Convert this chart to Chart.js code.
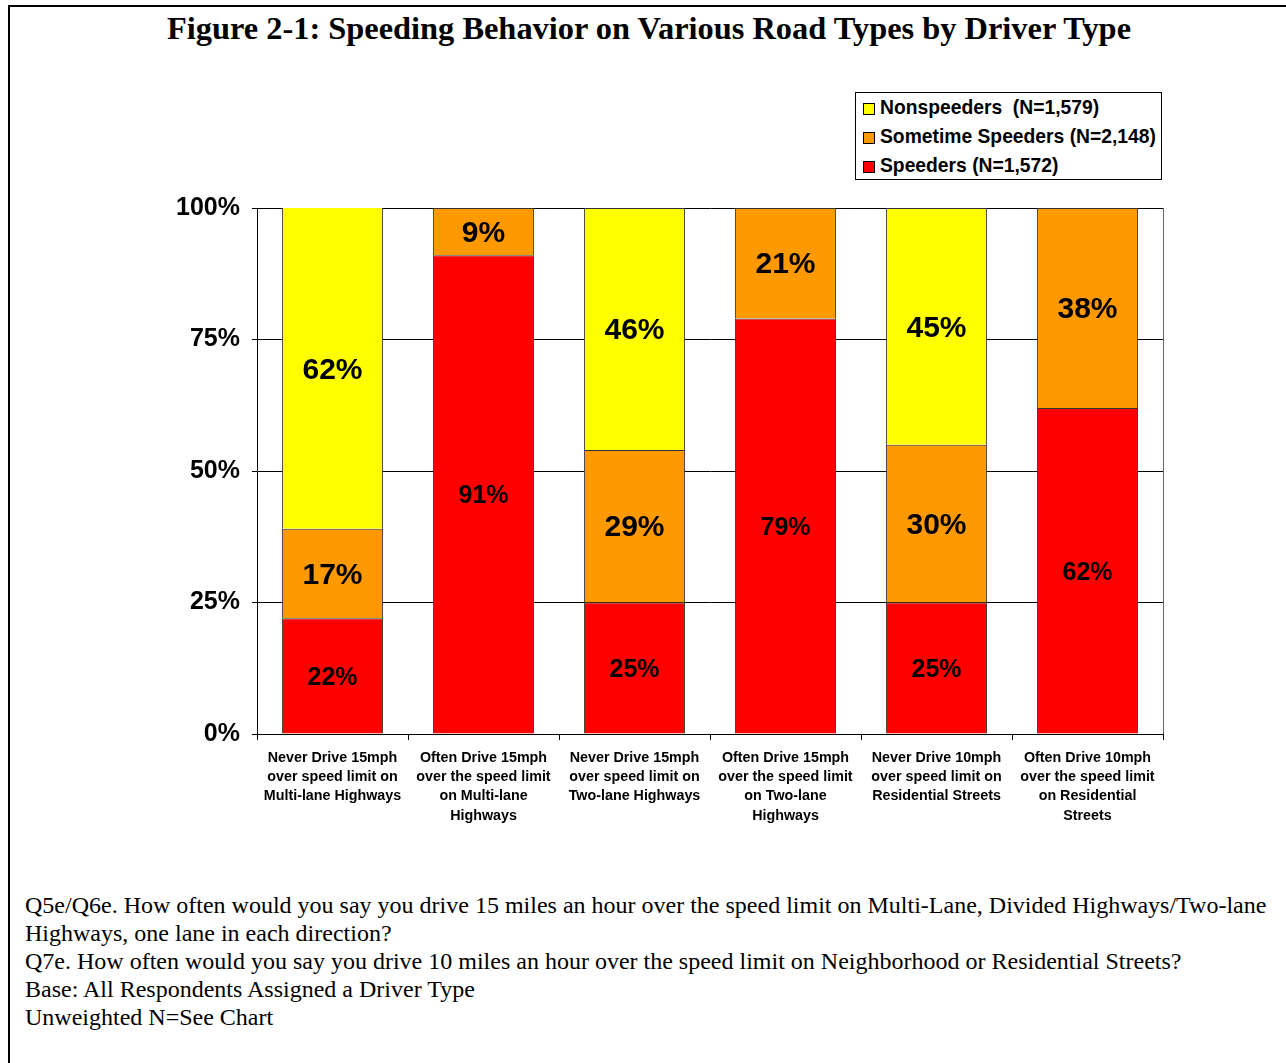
<!DOCTYPE html>
<html>
<head>
<meta charset="utf-8">
<script src="https://cdn.jsdelivr.net/npm/chart.js@4"></script>
<style>
  body { margin: 0; background: #fff; width: 1286px; height: 1063px; position: relative; overflow: hidden; }
  #frame { position: absolute; left: 8px; top: 5px; width: 1300px; height: 1100px; border-top: 2px solid #000; border-left: 2px solid #000; }
  #title { position: absolute; left: 0; width: 1298px; top: 10px; text-align: center; font: bold 32.4px "Liberation Serif", "Times New Roman", serif; color: #000; white-space: nowrap; }
  #wrap { position: absolute; left: 0; top: 0; width: 1286px; height: 840px; }
  #legend { position: absolute; left: 855px; top: 92px; width: 305px; height: 86px; border: 1px solid #000; background: #fff; }
  .item { position: absolute; left: 7px; font: bold 19.3px "Liberation Sans", Arial, sans-serif; white-space: pre; color: #000; }
  .sw { position: absolute; left: 0; top: 6px; width: 10px; height: 10px; border: 1px solid #000; }
  .item span.t { position: absolute; left: 17px; top: 0; }
  #notes { position: absolute; left: 25px; top: 891px; font: 24px "Liberation Serif", "Times New Roman", serif; line-height: 28px; color: #000; white-space: nowrap; }
</style>
</head>
<body>
<div id="frame"></div>
<div id="title">Figure 2-1: Speeding Behavior on Various Road Types by Driver Type</div>
<div id="wrap"><canvas id="myChart"></canvas></div>
<div id="legend"></div>
<div id="notes">Q5e/Q6e. How often would you say you drive 15 miles an hour over the speed limit on Multi-Lane, Divided Highways/Two-lane<br>Highways, one lane in each direction?<br>Q7e. How often would you say you drive 10 miles an hour over the speed limit on Neighborhood or Residential Streets?<br>Base: All Respondents Assigned a Driver Type<br>Unweighted N=See Chart</div>
<script>
var categories = [
    ['Never Drive 15mph', 'over speed limit on', 'Multi-lane Highways'],
    ['Often Drive 15mph', 'over the speed limit', 'on Multi-lane', 'Highways'],
    ['Never Drive 15mph', 'over speed limit on', 'Two-lane Highways'],
    ['Often Drive 15mph', 'over the speed limit', 'on Two-lane', 'Highways'],
    ['Never Drive 10mph', 'over speed limit on', 'Residential Streets'],
    ['Often Drive 10mph', 'over the speed limit', 'on Residential', 'Streets']
];
var speeders = [22, 91, 25, 79, 25, 62];
var sometimeSpeeders = [17, 9, 29, 21, 30, 38];
var nonspeeders = [62, null, 46, null, 45, null];
var yTicks = [0, 25, 50, 75, 100];

var legendLabels = ['Nonspeeders  (N=1,579)', 'Sometime Speeders (N=2,148)', 'Speeders (N=1,572)'];
var legendColors = ['#FFFF00', '#FF9900', '#FF0000'];

var legend = document.getElementById('legend');
for (var i = 0; i < legendLabels.length; i++) {
    var it = document.createElement('div');
    it.className = 'item';
    it.style.top = (4 + i * 29) + 'px';
    it.innerHTML = '<div class="sw" style="background:' + legendColors[i] + '"></div><span class="t"></span>';
    it.querySelector('.t').textContent = legendLabels[i];
    legend.appendChild(it);
}

// labels centred in each segment
var segLabels = {
    id: 'segLabels',
    afterDatasetsDraw: function(chart) {
        var ctx = chart.ctx;
        var area = chart.chartArea;
        ctx.save();
        ctx.textAlign = 'center';
        ctx.textBaseline = 'middle';
        ctx.fillStyle = '#000';
        chart.data.datasets.forEach(function(ds, di) {
            var meta = chart.getDatasetMeta(di);
            meta.data.forEach(function(bar, i) {
                var v = ds.data[i];
                if (v == null || v === 0) return;
                var top = Math.max(bar.y, area.top);
                var y = (top + bar.base) / 2;
                ctx.font = 'bold ' + ds.labelSize + 'px "Liberation Sans", Arial, sans-serif';
                ctx.fillText(v + '%', bar.x, y + 2);
            });
        });
        ctx.restore();
    }
};

var rightEdge = {
    id: 'rightEdge',
    afterDraw: function(chart) {
        var a = chart.chartArea;
        var ctx = chart.ctx;
        ctx.save();
        ctx.strokeStyle = '#666';
        ctx.lineWidth = 1;
        ctx.beginPath();
        ctx.moveTo(a.right + 0.5, a.top);
        ctx.lineTo(a.right + 0.5, a.bottom);
        ctx.stroke();
        ctx.restore();
    }
};

window.addEventListener('load', function() {
    var ctx = document.getElementById('myChart').getContext('2d');
    new Chart(ctx, {
        type: 'bar',
        data: {
            labels: categories,
            datasets: [
                { label: 'Speeders', data: speeders, backgroundColor: '#FF0000', borderColor: '#333', borderWidth: 1, labelSize: 25 },
                { label: 'Sometime Speeders', data: sometimeSpeeders, backgroundColor: '#FF9900', borderColor: '#333', borderWidth: 1, labelSize: 30 },
                { label: 'Nonspeeders', data: nonspeeders, backgroundColor: '#FFFF00', borderColor: '#333', borderWidth: 1, labelSize: 30 }
            ]
        },
        options: {
            responsive: true,
            maintainAspectRatio: false,
            animation: false,
            categoryPercentage: 1,
            barPercentage: 0.67,
            layout: { padding: { left: 0, top: 208, right: 123, bottom: 0 } },
            plugins: { legend: { display: false }, tooltip: { enabled: false } },
            scales: {
                x: {
                    stacked: true,
                    afterFit: function(s) { s.height = 106; },
                    grid: { drawOnChartArea: false, drawTicks: true, tickLength: 6, color: '#000', offset: true },
                    border: { color: '#000', width: 1 },
                    ticks: {
                        color: '#000', padding: 8, maxRotation: 0, autoSkip: false,
                        font: { family: '"Liberation Sans", Arial, sans-serif', size: 14.3, weight: 'bold', lineHeight: 1.35 }
                    }
                },
                y: {
                    stacked: true,
                    min: 0, max: 100,
                    afterFit: function(s) { s.width = 257; },
                    afterBuildTicks: function(s) { s.ticks = yTicks.map(function(v) { return { value: v }; }); },
                    grid: { color: '#000', lineWidth: 1, tickLength: 5 },
                    border: { color: '#000', width: 1 },
                    ticks: {
                        color: '#000', padding: 12,
                        callback: function(v) { return v + '%'; },
                        font: { family: '"Liberation Sans", Arial, sans-serif', size: 25, weight: 'bold' }
                    }
                }
            }
        },
        plugins: [segLabels, rightEdge]
    });
});
</script>
</body>
</html>
